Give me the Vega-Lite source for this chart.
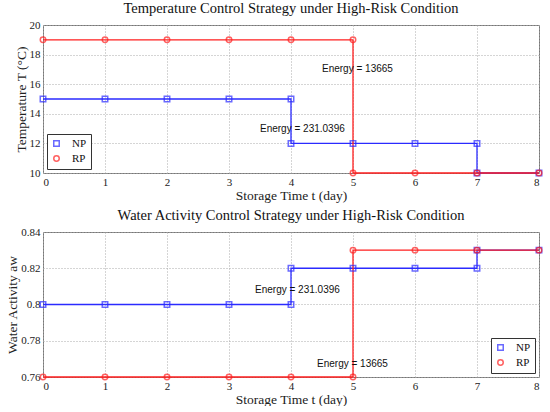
{
  "$schema": "https://vega.github.io/schema/vega-lite/v6.json",
  "padding": {"left": 5, "top": 0, "right": 6, "bottom": 0},
  "datasets": {
    "temp": [
      {"series": "NP", "i": 0, "t": 0, "v": 15},
      {"series": "NP", "i": 1, "t": 1, "v": 15},
      {"series": "NP", "i": 2, "t": 2, "v": 15},
      {"series": "NP", "i": 3, "t": 3, "v": 15},
      {"series": "NP", "i": 4, "t": 4, "v": 15},
      {"series": "NP", "i": 5, "t": 4, "v": 12},
      {"series": "NP", "i": 6, "t": 5, "v": 12},
      {"series": "NP", "i": 7, "t": 6, "v": 12},
      {"series": "NP", "i": 8, "t": 7, "v": 12},
      {"series": "NP", "i": 9, "t": 7, "v": 10},
      {"series": "NP", "i": 10, "t": 8, "v": 10},
      {"series": "RP", "i": 0, "t": 0, "v": 19},
      {"series": "RP", "i": 1, "t": 1, "v": 19},
      {"series": "RP", "i": 2, "t": 2, "v": 19},
      {"series": "RP", "i": 3, "t": 3, "v": 19},
      {"series": "RP", "i": 4, "t": 4, "v": 19},
      {"series": "RP", "i": 5, "t": 5, "v": 19},
      {"series": "RP", "i": 6, "t": 5, "v": 10},
      {"series": "RP", "i": 7, "t": 6, "v": 10},
      {"series": "RP", "i": 8, "t": 7, "v": 10},
      {"series": "RP", "i": 9, "t": 8, "v": 10}
    ],
    "aw": [
      {"series": "NP", "i": 0, "t": 0, "v": 0.80},
      {"series": "NP", "i": 1, "t": 1, "v": 0.80},
      {"series": "NP", "i": 2, "t": 2, "v": 0.80},
      {"series": "NP", "i": 3, "t": 3, "v": 0.80},
      {"series": "NP", "i": 4, "t": 4, "v": 0.80},
      {"series": "NP", "i": 5, "t": 4, "v": 0.82},
      {"series": "NP", "i": 6, "t": 5, "v": 0.82},
      {"series": "NP", "i": 7, "t": 6, "v": 0.82},
      {"series": "NP", "i": 8, "t": 7, "v": 0.82},
      {"series": "NP", "i": 9, "t": 7, "v": 0.83},
      {"series": "NP", "i": 10, "t": 8, "v": 0.83},
      {"series": "RP", "i": 0, "t": 0, "v": 0.76},
      {"series": "RP", "i": 1, "t": 1, "v": 0.76},
      {"series": "RP", "i": 2, "t": 2, "v": 0.76},
      {"series": "RP", "i": 3, "t": 3, "v": 0.76},
      {"series": "RP", "i": 4, "t": 4, "v": 0.76},
      {"series": "RP", "i": 5, "t": 5, "v": 0.76},
      {"series": "RP", "i": 6, "t": 5, "v": 0.83},
      {"series": "RP", "i": 7, "t": 6, "v": 0.83},
      {"series": "RP", "i": 8, "t": 7, "v": 0.83},
      {"series": "RP", "i": 9, "t": 8, "v": 0.83}
    ],
    "tempText": [
      {"t": 3.5, "v": 13.0, "label": "Energy = 231.0396"},
      {"t": 4.5, "v": 17.0, "label": "Energy = 13665"}
    ],
    "awText": [
      {"t": 3.42, "v": 0.808, "label": "Energy = 231.0396"},
      {"t": 4.42, "v": 0.767, "label": "Energy = 13665"}
    ]
  },
  "spacing": 5,
  "vconcat": [
    {
      "width": 496,
      "height": 148,
      "title": "Temperature Control Strategy under High-Risk Condition",
      "layer": [
        {
          "data": {"name": "temp"},
          "mark": {"type": "line", "strokeWidth": 1.3},
          "encoding": {
            "x": {"field": "t", "type": "quantitative", "scale": {"domain": [0, 8]}, "axis": {"title": "Storage Time t (day)", "values": [0,1,2,3,4,5,6,7,8], "format": "d", "labelOverlap": false}},
            "y": {"field": "v", "type": "quantitative", "scale": {"domain": [10, 20]}, "axis": {"title": "Temperature T (°C)", "values": [10,12,14,16,18,20], "tickCount": 6, "labelOverlap": false}},
            "color": {"field": "series", "type": "nominal", "scale": {"domain": ["NP", "RP"], "range": ["#2b2bff", "#ff1f1f"]}, "legend": {"title": null, "orient": "bottom-left", "offset": 4}},
            "order": {"field": "i", "type": "quantitative"}
          }
        },
        {
          "data": {"name": "temp"},
          "mark": {"type": "point", "filled": false, "strokeWidth": 1.5, "size": 30},
          "encoding": {
            "x": {"field": "t", "type": "quantitative"},
            "y": {"field": "v", "type": "quantitative"},
            "color": {"field": "series", "type": "nominal", "scale": {"domain": ["NP", "RP"], "range": ["#2b2bff", "#ff1f1f"]}, "legend": {"title": null, "orient": "bottom-left", "offset": 4}},
            "shape": {"field": "series", "type": "nominal", "scale": {"domain": ["NP", "RP"], "range": ["square", "circle"]}, "legend": {"title": null, "orient": "bottom-left", "offset": 4}}
          }
        },
        {
          "data": {"name": "tempText"},
          "mark": {"type": "text", "align": "left", "baseline": "middle", "font": "Liberation Sans", "fontSize": 10, "color": "#111"},
          "encoding": {
            "x": {"field": "t", "type": "quantitative"},
            "y": {"field": "v", "type": "quantitative"},
            "text": {"field": "label"}
          }
        }
      ]
    },
    {
      "width": 496,
      "height": 145,
      "title": "Water Activity Control Strategy under High-Risk Condition",
      "layer": [
        {
          "data": {"name": "aw"},
          "mark": {"type": "line", "strokeWidth": 1.3},
          "encoding": {
            "x": {"field": "t", "type": "quantitative", "scale": {"domain": [0, 8]}, "axis": {"title": "Storage Time t (day)", "values": [0,1,2,3,4,5,6,7,8], "format": "d", "labelOverlap": false}},
            "y": {"field": "v", "type": "quantitative", "scale": {"domain": [0.76, 0.84], "zero": false}, "axis": {"title": "Water Activity  aw", "values": [0.76,0.78,0.8,0.82,0.84], "tickCount": 5, "format": ".2~f", "labelOverlap": false}},
            "color": {"field": "series", "type": "nominal", "scale": {"domain": ["NP", "RP"], "range": ["#2b2bff", "#ff1f1f"]}, "legend": {"title": null, "orient": "bottom-right", "offset": 4}},
            "order": {"field": "i", "type": "quantitative"}
          }
        },
        {
          "data": {"name": "aw"},
          "mark": {"type": "point", "filled": false, "strokeWidth": 1.5, "size": 30},
          "encoding": {
            "x": {"field": "t", "type": "quantitative"},
            "y": {"field": "v", "type": "quantitative"},
            "color": {"field": "series", "type": "nominal", "scale": {"domain": ["NP", "RP"], "range": ["#2b2bff", "#ff1f1f"]}, "legend": {"title": null, "orient": "bottom-right", "offset": 4}},
            "shape": {"field": "series", "type": "nominal", "scale": {"domain": ["NP", "RP"], "range": ["square", "circle"]}, "legend": {"title": null, "orient": "bottom-right", "offset": 4}}
          }
        },
        {
          "data": {"name": "awText"},
          "mark": {"type": "text", "align": "left", "baseline": "middle", "font": "Liberation Sans", "fontSize": 10, "color": "#111"},
          "encoding": {
            "x": {"field": "t", "type": "quantitative"},
            "y": {"field": "v", "type": "quantitative"},
            "text": {"field": "label"}
          }
        }
      ]
    }
  ],
  "resolve": {"scale": {"color": "independent", "shape": "independent"}, "legend": {"color": "independent", "shape": "independent"}},
  "config": {
    "font": "Liberation Serif",
    "view": {"stroke": "#777", "strokeWidth": 1},
    "axis": {
      "grid": true, "gridDash": [1, 2], "gridColor": "#aaa", "domain": false, "ticks": false, "labelOverlap": false,
      "labelFont": "Liberation Serif", "labelFontSize": 11, "labelColor": "#222", "labelPadding": 3,
      "titleFont": "Liberation Serif", "titleFontSize": 13.5, "titleFontWeight": "normal", "titleColor": "#222", "titlePadding": 1
    },
    "title": {"font": "Liberation Serif", "fontSize": 14.5, "fontWeight": "normal", "color": "#111", "anchor": "middle", "offset": 3},
    "legend": {
      "fillColor": "white", "strokeColor": "#333", "padding": 4, "rowPadding": 2, "labelOffset": 10,
      "labelFont": "Liberation Serif", "labelFontSize": 11, "labelColor": "#111", "symbolStrokeWidth": 1.5, "symbolSize": 30
    }
  }
}
